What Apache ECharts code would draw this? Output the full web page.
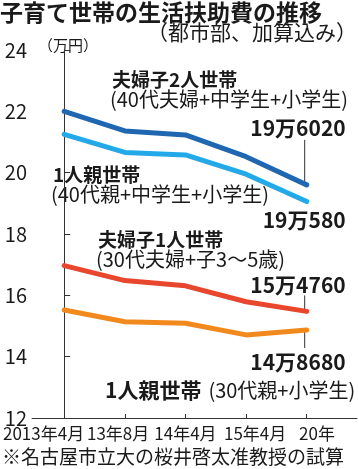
<!DOCTYPE html>
<html><head><meta charset="utf-8">
<script src="https://cdn.jsdelivr.net/npm/echarts@6/dist/echarts.min.js"></script>
<style>html,body{margin:0;padding:0;background:#fff}#c{width:359px;height:469px}</style>
</head><body><div id="c"></div>
<script>
const categories = ['2013年4月', '13年8月', '14年4月', '15年4月', '20年'];
const couple2 = [22.0, 21.36, 21.23, 20.52, 19.602];
const single40 = [21.25, 20.66, 20.58, 19.95, 19.058];
const couple1 = [16.97, 16.48, 16.31, 15.79, 15.476];
const single30 = [15.52, 15.14, 15.09, 14.71, 14.868];
const endLabels = ['19万6020', '19万580', '15万4760', '14万8680'];
const yTicks = [12, 14, 16, 18, 20, 22, 24];

const FONT = '"Noto Sans CJK JP", "Noto Sans", sans-serif';
// label placement offsets (in category steps) so the labels sit as in the print layout
const labelOffset = [-0.34, -0.11, 0, 0.15, 0.17];
const tickPos = categories.map((c, i) => i);
const labelPos = categories.map((c, i) => i + labelOffset[i]);

const colors = ['#1f67b1', '#23a9e8', '#e8472e', '#f2891d'];
const seriesData = [couple2, single40, couple1, single30];

const chart = echarts.init(document.getElementById('c'), null, {renderer: 'canvas'});
const option = {
  animation: false,
  backgroundColor: '#fff',
  grid: {left: 31, right: 2, top: 50, bottom: 51},
  xAxis: {
    type: 'value', min: -0.53, max: 4.83,
    axisLine: {show: true, lineStyle: {color: '#333', width: 1}},
    splitLine: {show: false},
    axisTick: {show: true, inside: true, length: 4, lineStyle: {color: '#333'}, customValues: tickPos},
    axisLabel: {
      customValues: labelPos, margin: 7, hideOverlap: false, showMinLabel: true, showMaxLabel: true,
      fontSize: 17, fontFamily: FONT, color: '#1a1a1a',
      formatter: v => categories[Math.round(v)]
    }
  },
  yAxis: {
    type: 'value', min: yTicks[0], max: yTicks[yTicks.length - 1], interval: 2,
    axisLine: {show: true, lineStyle: {color: '#333', width: 1}},
    splitLine: {show: false},
    axisTick: {show: true, inside: true, length: 6, lineStyle: {color: '#333'}},
    axisLabel: {fontSize: 20, fontFamily: FONT, color: '#1a1a1a', margin: 5}
  },
  series: seriesData.map((d, k) => ({
    type: 'line', symbol: 'none',
    data: d.map((v, i) => [i, v]),
    lineStyle: {color: colors[k], width: 5, cap: 'round', join: 'round'},
    z: 3
  }))
};
chart.setOption(option);

let gid = 0;
function txt(x, y, text, size, bold, align) {
  return {type: 'text', id: 't' + (gid++), x: x, y: y, style: {text: text, fontSize: size, fontWeight: bold ? 'bold' : 'normal',
    fontFamily: FONT, fill: '#1a1a1a', align: align || 'left', verticalAlign: 'middle'}};
}
const g = [];
g.push(txt(0, 12, '子育て世帯の生活扶助費の推移', 23, true));
g.push(txt(357, 32, '（都市部、加算込み）', 21, false, 'right'));
g.push(txt(38, 45, '（万円）', 15, false));
g.push(txt(112, 80, '夫婦子2人世帯', 19, true));
g.push(txt(110, 99, '(40代夫婦+中学生+小学生)', 20, false));
g.push(txt(53, 175, '1人親世帯', 19, true));
g.push(txt(51, 194, '(40代親+中学生+小学生)', 20, false));
g.push(txt(98, 240, '夫婦子1人世帯', 19, true));
g.push(txt(96, 259, '(30代夫婦+子3〜5歳)', 20, false));
g.push({type: 'text', id: 'lastlab', x: 105, y: 390, style: {
  text: '{b|1人親世帯}{n|(30代親+小学生)}', verticalAlign: 'middle', align: 'left',
  rich: {b: {fontSize: 21, fontWeight: 'bold', fontFamily: FONT, fill: '#1a1a1a', padding: [0, 7, 0, 0]},
         n: {fontSize: 20, fontFamily: FONT, fill: '#1a1a1a'}}}});
g.push(txt(2, 457, '※名古屋市立大の桜井啓太准教授の試算', 19, false));

const last = categories.length - 1;
const endPts = seriesData.map(d => chart.convertToPixel({gridIndex: 0}, [last, d[last]]));
const dy = [-57, 18, -26, 32];
const leader = [[-45, -2], null, [-16, -2], [2, 18]];
endPts.forEach((p, k) => {
  g.push(txt(p[0] + 39, p[1] + dy[k], endLabels[k], 21, true, 'right'));
  if (leader[k]) {
    g.push({type: 'line', id: 'l' + k, shape: {x1: p[0] - 2, y1: p[1] + leader[k][0], x2: p[0] - 2, y2: p[1] + leader[k][1]},
      style: {stroke: '#333', lineWidth: 1}, z: 1});
  }
});
chart.setOption({graphic: {elements: g}});
</script></body></html>
